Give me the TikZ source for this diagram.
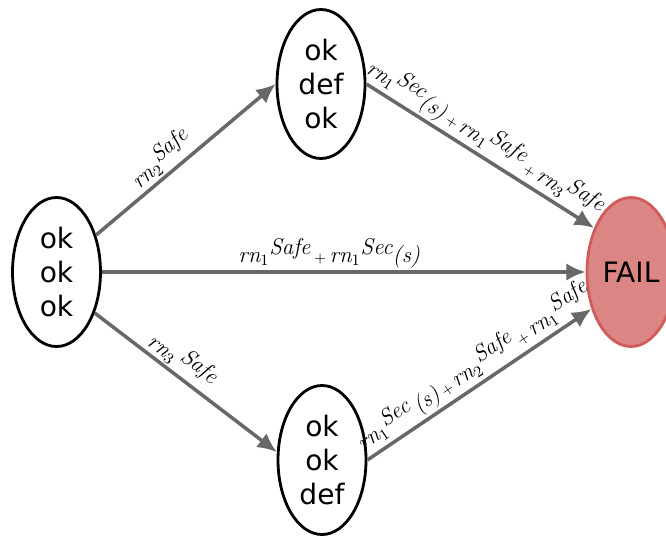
\documentclass[tikz,border=0pt]{standalone}
\usepackage{fontspec}
\setsansfont{DejaVu Sans}
\usetikzlibrary{shapes.geometric,arrows.meta}

\definecolor{failred}{RGB}{220,133,133}
\definecolor{failedge}{RGB}{208,92,92}
\definecolor{edgegray}{RGB}{104,104,104}

\tikzstyle{st}=[draw,ellipse,line width=1.6pt,minimum width=1.76cm,minimum height=2.98cm,inner sep=0pt,align=center,font=\sffamily\fontsize{16}{19.5}\selectfont]
\tikzstyle{fl}=[st,draw=failedge,fill=failred]
\tikzstyle{ed}=[draw=edgegray,line width=2pt,-{Latex[length=11pt,width=10pt]}]
\tikzstyle{lbl}=[sloped,above,inner sep=1pt,font=\fontsize{13}{15}\selectfont\itshape]

% rate name with index, and a raised rate kind
\newcommand{\rn}[1]{rn$_{#1}$}
\newcommand{\up}[1]{\raisebox{0.8ex}{#1}}
\newcommand{\pl}{\,{\footnotesize\upshape+}\,}

\begin{document}
\begin{tikzpicture}
  \useasboundingbox (0,0) rectangle (13.32,10.7);

  \node[st] (s0) at (1.13,5.26) {ok\\ok\\ok};
  \node[st] (s1) at (6.42,9.02) {ok\\def\\ok};
  \node[st] (s2) at (6.44,1.50) {ok\\ok\\def};
  \node[fl] (fail) at (12.62,5.26) {FAIL};

  \path (s0.43) edge [ed] node[lbl,pos=0.42] {\rn{2}\up{Safe}} (s1.west);
  \path (s0.-47) edge [ed] node[lbl,pos=0.43] {\rn{3}\,\up{Safe}} (s2.170);
  \path (s0.east) edge [ed] node[lbl,pos=0.47] {\rn{1}\up{Safe}\pl\rn{1}\up{Sec}(s)} (fail.west);

  \path (s1.east) edge [ed] node[lbl,pos=0.48] {\rn{1}\up{Sec}(s)\pl\rn{1}\up{Safe}\pl\rn{3}\up{Safe}} (fail.130);
  \path (s2.east) edge [ed] node[lbl,pos=0.52] {\rn{1}\up{Sec}\,(s)\pl\rn{2}\up{Safe}\pl\rn{1}\up{Safe}} (fail.223);
\end{tikzpicture}
\end{document}
